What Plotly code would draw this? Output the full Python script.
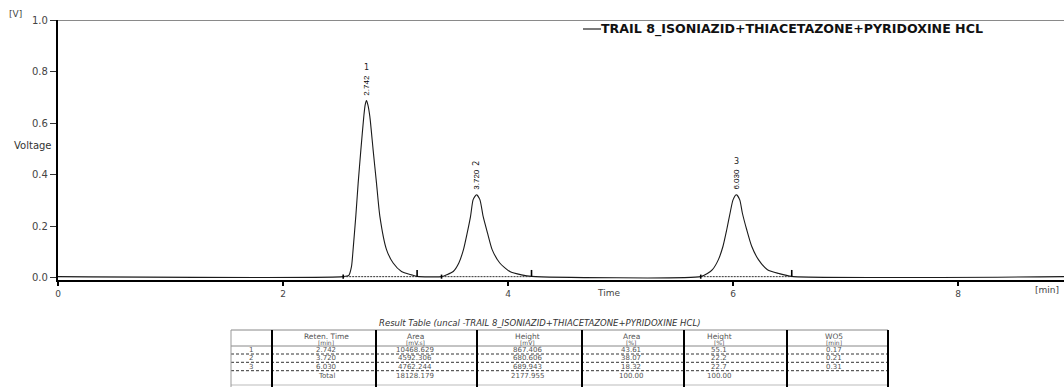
import plotly.graph_objects as go

# ---------------- chromatogram data ----------------
peak_ids = ["1", "2", "3"]
ret_times = [2.742, 3.720, 6.030]          # min
ret_labels = ["2.742", "3.720", "6.030"]
baseline_v = 0.004                          # V

# peak profiles: time offset from apex [min] and signal [V]
peak1_dt = [-0.207, -0.157, -0.133, -0.119, -0.095, -0.074, -0.050, -0.024, -0.012, 0.0,
            0.012, 0.030, 0.059, 0.089, 0.119, 0.178, 0.237, 0.311, 0.400, 0.450]
peak1_v = [0.004, 0.009, 0.044, 0.109, 0.238, 0.367, 0.496, 0.625, 0.670, 0.687,
           0.672, 0.625, 0.496, 0.367, 0.238, 0.109, 0.057, 0.024, 0.011, 0.005]

peak2_dt = [-0.311, -0.267, -0.207, -0.157, -0.116, -0.083, -0.053, -0.030, 0.0,
            0.030, 0.059, 0.098, 0.139, 0.207, 0.296, 0.400, 0.489]
peak2_v = [0.004, 0.011, 0.024, 0.057, 0.109, 0.173, 0.238, 0.303, 0.322,
           0.303, 0.238, 0.173, 0.109, 0.057, 0.024, 0.011, 0.005]

peak3_dt = [-0.317, -0.258, -0.213, -0.160, -0.119, -0.086, -0.056, -0.030, 0.0,
            0.030, 0.053, 0.092, 0.136, 0.196, 0.276, 0.379, 0.492]
peak3_v = [0.004, 0.016, 0.031, 0.070, 0.122, 0.186, 0.251, 0.302, 0.322,
           0.302, 0.251, 0.186, 0.122, 0.070, 0.031, 0.016, 0.005]

# integration windows relative to apex [min]
win_start = [-0.207, -0.311, -0.317]
win_end = [0.450, 0.489, 0.492]

x_ticks = [0, 2, 4, 6, 8]
y_ticks = [0.0, 0.2, 0.4, 0.6, 0.8, 1.0]
y_ticktext = ["0.0", "0.2", "0.4", "0.6", "0.8", "1.0"]
x_max = 8.942

series_name = "TRAIL 8_ISONIAZID+THIACETAZONE+PYRIDOXINE HCL"

# ---------------- result table data ----------------
table_title = "Result Table (uncal -TRAIL 8_ISONIAZID+THIACETAZONE+PYRIDOXINE HCL)"
col_names = ["", "Reten. Time", "Area", "Height", "Area", "Height", "WO5"]
col_units = ["", "[min]", "[mV.s]", "[mV]", "[%]", "[%]", "[min]"]
area_mvs = ["10468.629", "4592.306", "4762.244"]
height_mv = ["867.406", "680.606", "689.943"]
area_pct = ["43.61", "38.07", "18.32"]
height_pct = ["55.1", "22.2", "22.7"]
wo5_min = ["0.17", "0.21", "0.31"]
total_row = ["", "Total", "18128.179", "2177.955", "100.00", "100.00", ""]

# ---------------- geometry helpers ----------------
W, H = 1064, 387
ML, MR, MT, MB = 58, 0, 20, 107
PW, PH = W - ML - MR, H - MT - MB


def px(x):
    return (x - ML) / PW


def py(y):
    return (H - MB - y) / PH


def label(x, y, text, font, **kw):
    """Centred text placed in pixel coordinates of the page."""
    d = dict(x=px(x), y=py(y), xref="paper", yref="paper", text=text, showarrow=False,
             xanchor="center", yanchor="middle", font=font)
    d.update(kw)
    return d


fig = go.Figure()

# signal trace
sig_x, sig_y = [0.0], [baseline_v]
for rt, dts, vs in zip(ret_times, [peak1_dt, peak2_dt, peak3_dt], [peak1_v, peak2_v, peak3_v]):
    sig_x += [rt + d for d in dts]
    sig_y += vs
sig_x.append(x_max)
sig_y.append(baseline_v)

fig.add_trace(go.Scatter(x=sig_x, y=sig_y, mode="lines", name=series_name,
                         line=dict(color="#1a1a1a", width=1.1, shape="spline", smoothing=0.6),
                         showlegend=False, hoverinfo="skip"))

# integration baselines (dotted) and end markers
bx, by, mx, my = [], [], [], []
for rt, s, e in zip(ret_times, win_start, win_end):
    bx += [rt + s, rt + e, None]
    by += [baseline_v, baseline_v, None]
    mx += [rt + s, rt + s, None, rt + e, rt + e, None]
    my += [-0.004, 0.012, None, baseline_v, 0.03, None]
fig.add_trace(go.Scatter(x=bx, y=by, mode="lines", line=dict(color="#333", width=1, dash="2px,1px"),
                         showlegend=False, hoverinfo="skip"))
fig.add_trace(go.Scatter(x=mx, y=my, mode="lines", line=dict(color="#000", width=1.6),
                         showlegend=False, hoverinfo="skip"))

shapes = []
annotations = []

# frame line at the top of the plot
shapes.append(dict(type="line", xref="paper", yref="y", x0=0, x1=1, y0=1.0, y1=1.0,
                   line=dict(color="#8a8a8a", width=2)))

# peak labels
rt_font = dict(family="Liberation Sans, Arial, sans-serif", size=8, color="#000")
for i, (pid, rt, lab) in enumerate(zip(peak_ids, ret_times, ret_labels)):
    apex = max([peak1_v, peak2_v, peak3_v][i])
    annotations.append(dict(x=rt, y=apex, xref="x", yref="y", text=lab, showarrow=False,
                            textangle=-90, xanchor="center", yanchor="bottom", yshift=3,
                            font=rt_font))
    annotations.append(dict(x=rt, y=apex, xref="x", yref="y", text=pid, showarrow=False,
                            textangle=-90 if pid == "2" else 0, xanchor="center",
                            yanchor="bottom", yshift=27,
                            font=dict(family="DejaVu Sans", size=8, color="#222")))

# legend entry drawn as a short line plus bold caption
shapes.append(dict(type="line", xref="paper", yref="paper", x0=px(583), x1=px(601),
                   y0=py(29), y1=py(29), line=dict(color="#222", width=1.2)))
annotations.append(dict(x=px(599), y=py(29), xref="paper", yref="paper", text=series_name,
                        showarrow=False, xanchor="left", yanchor="middle",
                        font=dict(family="DejaVu Sans", size=12.6, color="#111", weight="bold")))

# axis captions
axis_font = dict(family="DejaVu Sans", size=9, color="#444")
annotations += [
    label(15, 14, "[V]", axis_font),
    label(33, 145, "Voltage", dict(family="DejaVu Sans", size=10, color="#333")),
    label(608, 293, "Time", axis_font),
    label(1047, 290, "[min]", axis_font),
]

# ---------------- result table ----------------
col_edges = [231, 272, 376, 477, 582, 684, 787, 888]
col_text_x = [251, 326, 415, 527, 631, 719, 834]
tab_top, head_bot, tab_bot = 330, 346, 385
row_lines = [354, 362.3, 370.7]
row_text_y = [350, 358.3, 366.7, 376]

annotations.append(label(540, 323, table_title,
                         dict(family="DejaVu Sans", size=8.5, color="#333", style="italic")))
x_l, x_r = px(col_edges[0]), px(col_edges[-1])
for yl, col, wd in [(tab_top, "#888", 1), (head_bot, "#888", 1), (tab_bot, "#bbb", 1)]:
    shapes.append(dict(type="line", xref="paper", yref="paper", x0=x_l, x1=x_r,
                       y0=py(yl), y1=py(yl), line=dict(color=col, width=wd)))
for yl in row_lines:
    shapes.append(dict(type="line", xref="paper", yref="paper", x0=x_l, x1=x_r,
                       y0=py(yl), y1=py(yl), line=dict(color="#333", width=1, dash="3px,2px")))
for j, xe in enumerate(col_edges):
    thin = j == 0
    shapes.append(dict(type="line", xref="paper", yref="paper", x0=px(xe), x1=px(xe),
                       y0=py(tab_top), y1=py(H), line=dict(color="#999" if thin else "#000",
                                                           width=1 if thin else 2)))

cell_font = dict(family="DejaVu Sans", size=7, color="#555")
head_font = dict(family="DejaVu Sans", size=7.5, color="#555")
unit_font = dict(family="DejaVu Sans", size=6, color="#555")
for cx, name, unit in zip(col_text_x, col_names, col_units):
    if name:
        annotations.append(label(cx, 336, name, head_font))
        annotations.append(label(cx, 342, unit, unit_font))

rows = [[pid, lab, a, h, ap, hp, w] for pid, lab, a, h, ap, hp, w in
        zip(peak_ids, ret_labels, area_mvs, height_mv, area_pct, height_pct, wo5_min)]
rows.append(total_row)
for ry, row in zip(row_text_y, rows):
    for cx, val in zip(col_text_x, row):
        if val:
            annotations.append(label(cx, ry, val, cell_font))

fig.update_layout(
    width=W, height=H,
    margin=dict(l=ML, r=MR, t=MT, b=MB, pad=0),
    paper_bgcolor="white", plot_bgcolor="white",
    showlegend=False,
    shapes=shapes, annotations=annotations,
    xaxis=dict(range=[0, x_max], tickvals=x_ticks, ticktext=[str(t) for t in x_ticks],
               showline=True, linecolor="#000", linewidth=1.6, ticks="outside", ticklen=4,
               tickwidth=1.5, tickcolor="#000", showgrid=False, zeroline=False,
               tickfont=dict(family="DejaVu Sans", size=9, color="#444")),
    yaxis=dict(range=[-0.009, 1.0], tickvals=y_ticks, ticktext=y_ticktext,
               showline=True, linecolor="#000", linewidth=2.2, ticks="outside", ticklen=6,
               tickwidth=1.2, tickcolor="#333", showgrid=False, zeroline=False,
               tickfont=dict(family="DejaVu Sans", size=10, color="#444")),
)

fig.write_html("out.html")
